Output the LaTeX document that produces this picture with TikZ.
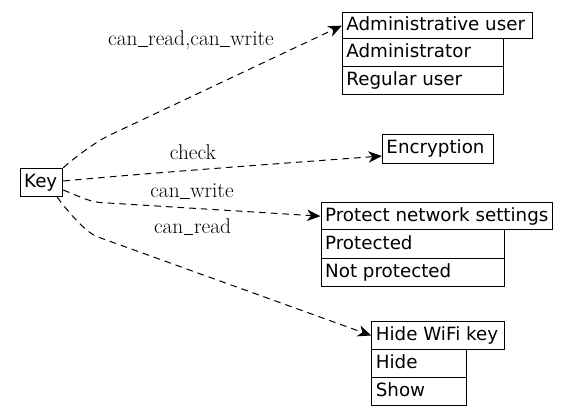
\documentclass[tikz,border=0pt]{standalone}
\usepackage{fontspec}
\newfontfamily\dvs{DejaVu Sans}
\usetikzlibrary{arrows.meta,fit,calc}
\newcommand\cellnode[6]{%
  \node[cellbox, fit={(#2,#3) (#4,#5)}] (#1) {};
  \node[celltext] (#1-t) at ($(#1.west)+(4.4,5)$) {#6};}
\newcommand\usc{\kern.03em\rule[-0.08em]{0.44em}{0.045em}\kern.03em}
\begin{document}
\begin{tikzpicture}[x=0.75pt,y=-0.75pt,
  cellbox/.style={draw, line width=0.75pt, inner sep=0pt},
  celltext/.style={anchor=base west, inner sep=0pt, font=\dvs\fontsize{13.7}{16}\selectfont},
  lbl/.style={anchor=base, inner sep=0pt, font=\fontsize{16}{18}\selectfont},
  conn/.style={line width=0.75pt, dash pattern=on 5pt off 3.75pt,
    -{Stealth[length=10pt,width=8.5pt,inset=3pt]}}]
\useasboundingbox (0,0) rectangle (569,416);
% Key
\cellnode{key}{20}{168.3}{62.7}{196.7}{Key}
% Administrative user
\cellnode{adm}{342.3}{12.3}{532}{39}{Administrative user}
\cellnode{adm1}{342.3}{39}{503}{66.7}{Administrator}
\cellnode{adm2}{342.3}{66.7}{503}{95}{Regular user}
% Encryption
\cellnode{enc}{382.3}{134.7}{493.3}{163.3}{Encryption}
% Protect network settings
\cellnode{prot}{321}{202.3}{552.3}{230}{Protect network settings}
\cellnode{prot1}{321}{230}{504.3}{258.3}{Protected}
\cellnode{prot2}{321}{258.3}{504.3}{286.7}{Not protected}
% Hide WiFi key
\cellnode{hide}{371.7}{321.7}{504}{349.3}{Hide WiFi key}
\cellnode{hide1}{371.7}{349.3}{466}{377.3}{Hide}
\cellnode{hide2}{371.7}{377.3}{466}{405.7}{Show}
% connectors
\draw[conn] (key.north east) .. controls (73,159) and (95,142) .. (110,135) -- (adm.west);
\draw[conn] ($(key.east)+(0,-1.5)$) .. controls (150,173) and (260,165) .. ($(enc.west)+(0,7)$);
\draw[conn] ($(key.east)+(0,7.5)$) .. controls (75,194.5) and (88,201.5) .. (100,202.5) -- (prot.west);
\draw[conn] ($(key.south east)+(-6,0)$) .. controls (69,213) and (86,232.7) .. (98,237) -- (hide.west);
% labels
\node[lbl] (l1) at (191,45.5) {can\usc read,can\usc write};
\node[lbl] (l2) at (193,159.3) {check};
\node[lbl] (l3) at (192,197.5) {can\usc write};
\node[lbl] (l4) at (192.5,233.5) {can\usc read};
\end{tikzpicture}
\end{document}
